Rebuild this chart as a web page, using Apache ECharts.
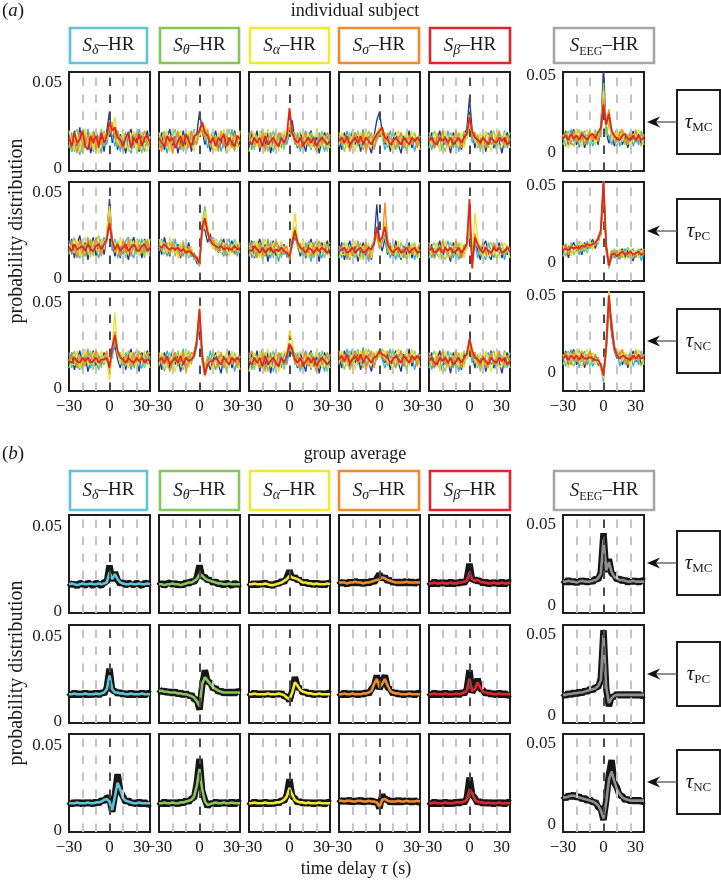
<!DOCTYPE html>
<html><head><meta charset="utf-8">
<script src="https://cdn.jsdelivr.net/npm/echarts@6/dist/echarts.min.js"></script>
<style>html,body{margin:0;padding:0;background:#fff}#c{width:721px;height:880px}</style>
</head><body><div id="c"></div><script>
// time delay (s)
const tau = [-30,-28,-26,-24,-22,-20,-18,-16,-14,-12,-10,-8,-6,-4,-2,0,2,4,6,8,10,12,14,16,18,20,22,24,26,28,30];
const xTicks = [-30, 0, 30];
const yTicks = [0, 50]; // per-mille (0.05 = 50‰)
const refLines = [-20, -10, 0, 10, 20];

// ===== (b) group average, per-mille: smoothed mean (coloured) and raw mean (black) =====
const bMCdelta = [16,16.5,16,15.5,16,16.5,16,16,16.5,16,16,16.5,16,16.5,17,23,19,22,19,17,16.5,16,16,16.5,16,16,16.5,16,16,16.5,16];
const bMCtheta = [16,16,15.5,16,16,16.5,16,16,15.5,16,16.5,17,17,18,19,22,21,19.5,18.5,18,17.5,17,16.5,16.5,16,16,16.5,16,16,16,16];
const bMCalpha = [16,16,16.5,16,16,16,16.5,16,15.5,15.5,16,16.5,17,18,19,21,20,19.5,19,18,17,17,16.5,16.5,16,16.5,16,16,16,16.5,16];
const bMCsigma = [17,17,17,16.5,17,17,17.5,17,17,16.5,17,17,17.5,18,18.5,19,20,19.5,18.5,18,17.5,17,17,17,17,17.5,17,17,17,17,17];
const bMCbeta  = [16.5,16.5,17,16.5,16.5,17,16.5,16.5,17,16.5,16.5,17,17,17.5,18,23,19,18,18.5,17.5,17,17,16.5,16.5,17,16.5,16.5,17,16.5,16.5,17];
const bMCeeg   = [15,15,15.5,15,15,14.5,15,15.5,15,15,15,15.5,16,17,20,41,22,27,21,18,17,16,16,15.5,15,15,15.5,15,15,15,15];
const bPCdelta = [16,16,16.5,16,16,16,16.5,16,16,16,16.5,16,16.5,17,19,27,19,17,17,16.5,16.5,16,16,16.5,16,16,16,16.5,16,16,16];
const bPCtheta = [18,18,17.5,17.5,17,17,17,16.5,16.5,16,16,15.5,15,14,12,9,22,26,24,22,20,19,18,17.5,17,17,17,17,17,17,17];
const bPCalpha = [16,16,16.5,16,16,16,16,16.5,16,16,16,16.5,16,15.5,14,13,17,23,21,18.5,17.5,17,16.5,16.5,16,16,16.5,16,16,16,16];
const bPCsigma = [16,16,16.5,16,16,16.5,16,16,16,16.5,16.5,17,18,22,25,20,22,25,21,18,17,16.5,16.5,16,16,16,16.5,16,16,16,16];
const bPCbeta  = [16,16,16.5,16,16,16,16.5,16,16,16,16.5,16,16.5,17,18,25,18,19,23,20,17.5,17,16.5,16.5,16,16,16.5,16,16,16,16];
const bPCeeg   = [13,13,13.5,13.5,14,14,14.5,14.5,15,15.5,16,16.5,17,18.5,22,50,18,8,11,12.5,13,13,13,13,13,13,13,13,13,13,13];
const bNCdelta = [16,16,16,16.5,16,16,16,16.5,16,16,16.5,16.5,17,18,18.5,17,12,20,28,24,19,17.5,17,16.5,16,16,16.5,16,16,16,16];
const bNCtheta = [16,16,16.5,16,16,16.5,16,16,16.5,16.5,17,17.5,18,20,26,36,24,17,15,15.5,16,16.5,16,16,16.5,16,16,16.5,16,16,16];
const bNCalpha = [16,16,16.5,16,16,16,16.5,16,16,16,16.5,16.5,17,18,20,25,21,18,17,16.5,16.5,16,16.5,16,16,16,16.5,16,16,16,16];
const bNCsigma = [17.5,17.5,17,17.5,17.5,17,17,17.5,17.5,17,17,17.5,17,17,16.5,14,18,18.5,17.5,17,17,17,17.5,17,17,17.5,17,17,17,17.5,17];
const bNCbeta  = [16,16,16.5,16,16,16,16.5,16,16,16,16.5,16.5,16.5,17,18,24,22,18,17,16.5,16.5,16,16.5,16,16,16,16.5,16,16,16,16];
const bNCeeg   = [17,17,17.5,18,18,17.5,17,16.5,16,15.5,15,14.5,13.5,12,9,4,14,28,33,27,22,19,17,16,15.5,15,15,15,15,15,15];

const bMCdeltaRaw = [17,15.5,16.5,14.5,17,16,15,17,16,15,17,16,15,17.5,17,27,18,23,18.5,16,17.5,15,17,16,15.5,17,16,15,17,16,17];
const bMCthetaRaw = [15,17,15,16.5,17,15.5,17,15,16.5,15,17.5,16,18,17,20,27,20,20.5,18,19,16.5,18,15.5,17,15,17,16,15,17,15.5,16.5];
const bMCalphaRaw = [17,15,17,15,17,15.5,17.5,15,16.5,14.5,17,16,18,17,20,24,19,20.5,18,19,16,18,15.5,17.5,15,17.5,15,17,15,17,16];
const bMCsigmaRaw = [18,16,17.5,15.5,18,16,18.5,16,18,15.5,18,16,18.5,17,19.5,22,19,20.5,17.5,19,16.5,18,16,18,16,18.5,16,18,16,17.5,17];
const bMCbetaRaw  = [17.5,15.5,18,15.5,17.5,16,17.5,15.5,18,15.5,17.5,16,18,16.5,19,28,18,19,17.5,18.5,16,18,15.5,17.5,16,17.5,15.5,18,15.5,17.5,16.5];
const bMCeegRaw   = [16,14,16.5,14,16,13.5,16,14.5,16,14,16,14.5,17,16,21,45,21,29,20,19,16,17,15,16.5,14,16,14.5,16,14,16,15];
const bPCdeltaRaw = [17,15,17.5,15,17,15,17.5,15,17,15,17.5,15,17.5,16,20,31,18,18,16,17.5,15.5,17,15,17.5,15,17,15,17.5,15,17,16];
const bPCthetaRaw = [19,17,18.5,16.5,18,16,18,15.5,17.5,15,17,14.5,16,13,13,7,21,30,23,23,19,20,17,18.5,16,18,16,18,16,18,17];
const bPCalphaRaw = [17,15,17.5,15,17,15,17,15.5,17,15,17,15.5,17,14.5,15,12,18,26,20,19.5,16.5,18,15.5,17.5,15,17,15.5,17,15,17,16];
const bPCsigmaRaw = [17,15,17.5,15,17,15.5,17,15,17,15.5,17.5,16,19,21,27,19,23,27,20,19,16,17.5,15.5,17,15,17,15.5,17,15,17,16];
const bPCbetaRaw  = [17,15,17.5,15,17,15,17.5,15,17,15,17.5,15,17.5,16,19,30,17,20,25,19,18.5,16,17.5,15.5,17,15,17.5,15,17,15,16];
const bPCeegRaw   = [14,12,14.5,12.5,15,13,15.5,13.5,16,14.5,17,15.5,18,17.5,23,53,17,6,12,11.5,14,12,14,12,14,12,14,12,14,12,13];
const bNCdeltaRaw = [17,15,17,15.5,17,15,17,15.5,17,15,17.5,15.5,18,17,19.5,19,11,21,33,23,20,16.5,18,15.5,17,15,17.5,15,17,15,16];
const bNCthetaRaw = [17,15,17.5,15,17,15.5,17,15,17.5,15.5,18,16.5,19,19,28,42,23,18,14,16.5,15,17.5,15,17,15.5,17,15,17.5,15,17,16];
const bNCalphaRaw = [17,15,17.5,15,17,15,17.5,15,17,15,17.5,15.5,18,17,21,30,20,19,16,17.5,15.5,17,15.5,17,15,17,15.5,17,15,17,16];
const bNCsigmaRaw = [18.5,16.5,18,16.5,18.5,16,18,16.5,18.5,16,18,16.5,18,16,17.5,13,21,18,18.5,16,18,16,18.5,16,18,16.5,18,16,18,16.5,17];
const bNCbetaRaw  = [17,15,17.5,15,17,15,17.5,15,17,15,17.5,15.5,17.5,16,19,31,21,19,16,17.5,15.5,17,15.5,17,15,17,15.5,17,15,17,16];
const bNCeegRaw   = [18,16,18.5,17,19,16.5,18,15.5,17,14.5,16,13.5,14.5,11,10,3,15,31,40,26,23,18,18,15,16.5,14,16,14,16,14,15];

// ===== (a) individual subject, per-mille; traces: blue, cyan, green, yellow, orange, red =====
const aMCdelta = [
[20,10,22,13,24,11,18,21,9,16,23,12,19,10,22,33,15,24,11,20,16,9,19,23,12,18,10,21,15,22,11],
[12,21,10,18,8,20,14,23,17,10,21,15,9,22,14,24,19,13,22,10,18,21,12,9,20,14,23,15,10,18,21],
[16,10,20,23,13,9,21,12,16,22,10,18,23,13,19,24,27,20,13,19,10,16,22,17,12,21,15,9,19,13,18],
[22,15,11,19,10,18,23,14,21,11,18,9,15,21,17,25,22,30,16,13,21,15,10,19,22,11,17,21,13,10,19],
[13,19,16,9,21,15,12,20,13,21,11,19,14,18,21,20,26,17,22,14,12,19,17,13,16,21,11,17,22,15,13],
[18,13,21,15,17,22,13,11,19,15,19,13,21,15,19,27,22,24,18,17,13,18,21,12,18,15,20,13,18,19,15]];
const aMCtheta = [
[14,21,11,18,23,12,19,9,16,22,13,20,10,17,20,33,22,14,19,10,17,22,12,15,21,9,18,13,22,16,12],
[19,12,18,9,16,22,13,21,11,18,9,16,22,14,19,22,25,20,12,18,22,13,19,10,16,21,14,23,11,17,20],
[11,18,22,15,12,18,23,14,19,10,21,13,17,23,15,20,24,18,21,15,11,19,15,22,12,17,23,15,10,19,16],
[21,14,16,22,10,19,13,17,22,15,12,22,15,10,19,19,23,25,16,20,13,10,21,17,23,13,10,19,17,12,22],
[16,10,20,13,19,9,17,22,11,19,16,12,21,17,14,24,21,18,23,13,19,16,10,20,13,19,16,12,21,15,13],
[18,15,13,19,16,18,12,16,19,13,20,16,13,19,20,22,27,21,19,15,18,13,18,16,20,13,18,15,13,19,17]];
const aMCalpha = [
[13,20,16,22,10,18,14,21,9,17,22,12,19,14,17,22,28,17,12,21,16,10,19,22,13,19,9,17,21,14,18],
[21,11,18,14,19,23,12,16,21,10,16,20,12,21,14,20,23,14,21,10,18,22,16,11,19,13,21,16,10,19,14],
[16,18,11,19,14,12,21,10,17,22,13,18,21,11,19,21,19,21,15,18,12,19,14,21,17,15,12,22,17,10,20],
[10,16,21,13,22,16,18,23,14,12,19,10,16,22,17,26,22,18,13,22,19,14,21,12,16,22,17,12,19,16,12],
[18,22,14,16,12,21,10,17,19,16,13,21,18,14,20,24,20,15,19,12,17,21,13,18,14,10,19,14,16,21,17],
[16,14,18,15,18,13,19,14,16,18,15,13,18,15,19,35,21,17,15,18,13,16,18,15,18,13,16,18,16,14,16]];
const aMCsigma = [
[18,11,21,16,12,22,14,19,10,17,21,14,9,19,28,33,21,14,19,10,17,21,14,9,19,16,22,12,17,14,21],
[13,19,14,22,17,11,21,13,17,23,12,19,16,12,19,22,19,11,16,22,14,11,19,17,12,21,14,19,10,17,14],
[19,16,10,17,21,14,16,22,14,11,18,22,14,20,16,20,23,19,12,17,21,16,12,21,16,10,18,16,21,14,19],
[14,21,17,12,16,19,10,17,21,16,22,12,19,16,21,24,17,21,15,14,10,19,22,14,17,21,12,22,16,19,11],
[21,14,19,16,10,17,21,14,16,21,10,16,21,11,17,21,24,15,21,17,16,12,17,21,12,16,19,14,18,12,19],
[16,18,15,19,14,16,18,15,19,14,18,16,14,17,20,22,24,18,17,14,16,18,16,14,18,16,14,18,16,18,16]];
const aMCbeta = [
[14,21,12,17,22,10,19,16,9,21,14,18,11,20,23,41,22,12,19,14,21,10,16,22,12,19,16,9,17,21,14],
[19,11,18,14,12,21,14,22,16,12,19,10,17,14,20,28,15,21,12,18,10,19,21,14,17,11,21,16,22,12,18],
[12,18,22,16,19,14,10,17,21,16,12,21,16,22,17,25,21,15,20,10,17,16,12,19,22,14,17,19,12,16,21],
[17,14,16,21,10,18,22,12,17,19,16,13,21,12,19,26,23,17,13,21,14,22,17,10,16,21,12,14,21,17,12],
[21,16,12,19,16,22,15,14,12,17,22,16,12,17,21,31,18,21,15,13,19,12,17,21,14,17,22,16,14,19,16],
[16,18,15,14,18,16,18,15,18,14,16,18,15,18,20,30,22,18,17,15,18,16,14,18,16,15,18,16,18,14,16]];
const aMCeeg = [
[8,14,4,11,15,5,9,13,3,9,14,7,12,5,15,56,13,6,15,4,9,14,5,11,3,9,14,7,12,5,9],
[12,4,9,15,7,12,3,10,14,5,11,4,9,14,10,30,15,10,5,12,15,4,9,12,7,14,4,10,5,14,7],
[5,11,14,7,4,10,15,7,9,12,4,10,15,8,13,45,10,19,12,8,4,10,14,5,12,7,10,15,8,4,12],
[11,7,3,12,10,15,7,4,12,15,8,13,5,10,16,40,17,22,8,13,10,15,7,13,10,4,12,8,15,10,5],
[9,13,10,5,14,7,10,14,5,10,14,8,12,7,14,35,19,28,15,10,7,12,15,8,5,12,8,14,7,12,10],
[9,11,8,12,9,11,8,12,10,8,11,12,9,13,16,31,18,25,14,11,9,8,11,12,9,8,11,8,11,8,10]];
const aPCdelta = [
[17,23,12,20,25,15,21,11,18,24,13,20,23,14,25,46,21,13,20,12,23,17,11,20,24,15,19,12,23,16,20],
[22,14,20,15,12,23,17,24,13,20,17,12,19,24,21,35,16,23,12,19,14,22,24,15,12,22,17,23,15,20,13],
[14,20,24,16,22,12,20,15,23,13,22,25,15,20,22,40,23,16,22,14,20,12,19,23,17,14,23,18,12,23,18],
[20,17,15,23,13,20,24,17,12,22,18,15,23,17,27,42,20,21,14,24,17,20,15,22,18,23,13,20,22,14,23],
[15,22,18,12,22,16,13,23,20,15,24,18,13,21,23,36,22,15,19,13,22,15,23,13,20,17,20,15,18,22,15],
[18,16,20,17,18,19,16,20,17,16,19,20,17,20,23,32,22,17,20,16,18,20,16,18,20,17,16,19,20,16,18]];
const aPCtheta = [
[21,14,24,18,13,22,16,20,12,19,15,21,13,15,9,8,30,28,21,26,18,23,15,20,23,13,18,22,15,20,16],
[16,23,18,13,22,16,23,14,20,13,20,12,17,11,13,10,28,34,27,20,24,17,21,16,13,20,23,15,20,13,21],
[23,17,14,21,16,20,13,19,16,22,12,18,14,12,11,7,33,42,29,22,20,16,20,23,17,14,20,16,23,18,15],
[18,22,20,15,24,15,20,12,21,15,18,13,19,13,12,9,27,38,31,21,17,23,16,15,21,18,13,20,16,21,18],
[20,16,21,19,14,21,18,16,13,20,14,19,15,14,13,10,26,33,25,24,22,19,16,20,15,21,16,18,14,17,20],
[19,18,20,18,17,18,17,18,16,17,15,16,15,13,12,9,30,35,27,22,20,19,18,19,17,18,17,17,19,17,18]];
const aPCalpha = [
[16,22,12,19,23,14,20,10,17,22,12,19,14,20,13,12,20,24,20,13,21,12,19,23,14,17,10,21,15,22,14],
[21,12,19,14,17,22,15,23,12,20,16,10,21,14,16,13,18,26,22,19,12,21,16,10,19,22,15,12,21,14,19],
[13,19,22,15,21,11,19,14,22,12,21,17,12,19,14,11,22,30,17,21,17,13,22,17,12,19,22,17,12,20,17],
[19,15,13,22,12,19,23,15,14,21,17,13,22,16,17,14,25,38,24,15,22,17,12,21,17,13,19,15,22,17,12],
[17,21,17,12,21,15,13,21,19,15,22,19,15,17,19,12,21,27,20,19,15,19,17,13,21,15,21,19,15,19,21],
[17,16,19,17,15,18,15,17,18,15,17,16,18,16,15,13,21,28,21,18,17,15,18,17,15,18,16,18,17,15,17]];
const aPCsigma = [
[14,21,11,17,22,13,19,10,16,21,13,19,11,21,43,21,16,23,14,19,12,22,16,11,19,14,21,12,17,14,19],
[19,12,18,14,11,21,14,22,12,17,15,10,19,22,30,18,21,26,19,12,17,11,19,16,12,21,14,19,11,17,14],
[12,18,21,11,19,16,12,17,21,11,19,16,14,20,26,17,23,24,15,21,14,17,12,21,17,11,18,16,21,12,17],
[17,14,14,21,12,17,22,14,11,19,16,21,12,22,28,19,22,33,21,14,19,14,22,12,16,19,12,21,14,19,12],
[16,19,16,12,18,14,16,21,17,14,21,12,17,21,25,18,21,44,23,17,14,19,16,17,14,18,19,14,17,16,21],
[16,17,18,15,16,18,15,17,18,15,16,18,17,20,30,22,24,30,20,17,15,17,18,15,16,18,15,17,18,15,16]];
const aPCbeta = [
[14,20,12,17,22,11,19,15,10,21,14,18,12,19,20,33,13,20,17,11,19,22,14,11,19,16,21,12,17,14,19],
[19,12,18,14,12,21,16,22,16,12,19,11,17,14,18,28,12,21,12,19,14,11,21,16,12,21,14,18,11,19,14],
[12,18,21,16,19,14,11,17,21,16,12,21,16,20,17,30,10,22,20,14,17,14,19,21,16,12,17,21,14,16,18],
[17,14,16,21,11,17,22,12,17,19,16,14,21,12,19,35,13,38,24,17,12,19,12,17,14,19,12,16,21,17,12],
[21,16,12,17,16,22,16,14,12,17,22,16,12,17,21,40,9,26,19,16,21,15,17,14,21,17,19,14,16,19,16],
[16,18,15,16,18,15,18,16,18,15,16,18,15,17,20,46,6,24,20,17,15,18,16,15,18,16,18,15,16,18,16]];
const aPCeeg = [
[6,12,3,10,13,7,11,5,13,9,12,15,9,15,18,50,8,-3,3,8,1,6,9,3,8,4,1,8,4,9,3],
[10,4,11,6,8,12,5,11,7,14,9,12,14,12,20,45,10,0,7,3,8,2,5,9,3,7,9,3,8,1,7],
[4,10,8,13,5,9,14,7,11,6,13,10,13,16,17,48,12,-4,2,9,5,8,3,6,10,2,6,5,9,6,8],
[11,6,9,4,11,6,9,13,9,11,14,8,15,13,22,55,14,1,5,7,3,9,6,2,5,9,5,8,3,8,5],
[8,12,5,11,9,11,7,9,12,10,10,13,11,17,19,52,9,-2,8,5,6,3,8,6,4,8,3,6,7,4,9],
[8,9,8,10,9,10,9,11,10,12,11,12,13,15,21,53,11,-2,5,6,4,6,7,5,6,7,5,6,7,5,6]];
const aNCdelta = [
[14,21,11,17,22,12,19,10,16,22,12,19,14,21,17,12,20,25,17,12,21,11,19,23,12,17,10,21,15,22,14],
[21,12,19,14,11,22,16,23,12,19,16,11,21,14,19,14,18,27,22,19,12,21,16,11,19,22,15,12,21,14,19],
[12,18,22,15,19,11,21,14,22,11,21,17,12,19,21,11,23,30,19,21,17,13,22,17,12,19,22,17,12,21,17],
[17,14,14,22,12,17,23,15,14,21,17,13,22,15,19,5,24,44,23,14,22,17,12,21,17,13,19,15,22,17,12],
[16,21,16,12,19,16,13,21,19,15,22,19,15,17,22,13,22,33,20,19,15,19,17,13,21,15,21,19,15,19,21],
[16,15,18,16,15,18,16,18,15,16,18,15,17,17,18,12,24,31,22,18,17,15,18,16,15,18,16,18,15,17,16]];
const aNCtheta = [
[18,11,21,16,12,22,14,19,10,17,21,14,17,21,26,40,18,10,16,11,17,21,14,9,19,16,22,12,17,14,21],
[13,19,14,22,17,11,21,13,17,23,12,19,16,18,24,44,15,8,14,22,14,11,19,17,12,21,14,19,10,17,14],
[19,16,10,17,21,14,16,22,14,11,18,22,14,22,28,42,20,12,19,17,21,16,12,21,16,10,18,16,21,14,19],
[14,21,17,12,16,19,10,17,21,16,22,12,19,19,30,48,17,7,16,14,10,19,22,14,17,21,12,22,16,19,11],
[21,14,19,16,10,17,21,14,16,21,10,16,21,20,27,45,22,10,17,17,16,12,17,21,12,16,19,14,18,12,19],
[16,18,15,19,14,16,18,15,19,14,18,16,17,19,28,46,19,8,14,16,16,18,16,14,18,16,14,18,16,18,16]];
const aNCalpha = [
[13,20,16,22,10,18,14,21,9,17,22,12,19,14,17,24,20,17,12,21,16,10,19,22,13,19,9,17,21,14,18],
[21,11,18,14,19,23,12,16,21,10,16,20,12,21,14,22,25,14,21,10,18,22,16,11,19,13,21,16,10,19,14],
[16,18,11,19,14,12,21,10,17,22,13,18,21,11,19,23,21,21,15,18,12,19,14,21,17,15,12,22,17,10,20],
[10,16,21,13,22,16,18,23,14,12,19,10,16,22,19,34,27,18,13,22,19,14,21,12,16,22,17,12,19,16,12],
[18,22,14,16,12,21,10,17,19,16,13,21,18,14,20,26,22,15,19,12,17,21,13,18,14,10,19,14,16,21,17],
[16,14,18,15,18,13,19,14,16,18,15,13,18,15,19,26,23,17,15,18,13,16,18,15,18,13,16,18,16,14,16]];
const aNCsigma = [
[19,12,22,17,13,23,15,20,11,18,22,15,10,20,17,22,18,15,20,11,18,22,15,10,20,17,23,13,18,15,22],
[14,20,15,23,18,12,22,14,18,24,13,20,17,13,20,20,17,12,17,23,15,12,20,18,13,22,15,20,11,18,15],
[20,17,11,18,22,15,17,23,15,12,19,23,15,21,17,19,23,20,13,18,22,17,13,22,17,11,19,17,22,15,20],
[15,22,18,13,17,20,11,18,22,17,23,13,20,17,22,18,20,22,16,15,11,20,23,15,18,22,13,23,17,20,12],
[22,15,20,17,11,18,22,15,17,22,11,17,22,12,18,22,19,16,22,18,17,13,18,22,13,17,20,15,19,13,20],
[17,19,16,20,15,17,19,16,20,15,19,17,15,18,19,22,20,19,18,15,17,19,17,15,19,17,15,19,17,19,17]];
const aNCbeta = [
[14,21,12,17,22,10,19,16,9,21,14,18,11,20,18,26,20,12,19,14,21,10,16,22,12,19,16,9,17,21,14],
[19,11,18,14,12,21,14,22,16,12,19,10,17,14,20,22,15,21,12,18,10,19,21,14,17,11,21,16,22,12,18],
[12,18,22,16,19,14,10,17,21,16,12,21,16,22,17,24,21,15,20,10,17,16,12,19,22,14,17,19,12,16,21],
[17,14,16,21,10,18,22,12,17,19,16,13,21,12,19,25,23,17,13,21,14,22,17,10,16,21,12,14,21,17,12],
[21,16,12,19,16,22,15,14,12,17,22,16,12,17,21,27,18,21,15,13,19,12,17,21,14,17,22,16,14,19,16],
[16,18,15,14,18,16,18,15,18,14,16,18,15,18,20,29,22,18,17,15,18,16,14,18,16,15,18,16,18,14,16]];
const aNCeeg = [
[8,14,4,11,15,5,9,13,3,9,14,7,11,5,4,-3,15,45,25,14,9,14,5,11,3,9,14,7,12,5,9],
[12,4,9,15,7,12,3,10,14,5,11,4,8,10,3,-6,20,52,30,16,15,4,9,12,7,14,4,10,5,14,7],
[5,11,14,7,4,10,15,7,9,12,4,10,12,6,6,-2,12,40,35,18,11,10,14,5,12,7,10,15,8,4,12],
[11,7,3,12,10,15,7,4,12,15,8,13,5,8,3,-4,18,55,28,15,10,15,7,13,10,4,12,8,15,10,5],
[9,13,10,5,14,7,10,14,5,10,14,8,10,9,5,-1,16,48,32,17,12,12,15,8,5,12,8,14,7,12,10],
[9,11,8,11,9,11,8,11,9,9,10,9,8,8,5,-2,17,50,30,16,11,9,11,10,9,8,11,9,11,9,10]];

// ===== text =====
const bandSubs = ['δ','θ','α','σ','β','EEG'];
const tauSubs = ['MC','PC','NC'];
const panelTitles = ['individual subject','group average'];
const panelLetters = ['a','b'];

const indivRows = [[aMCdelta,aMCtheta,aMCalpha,aMCsigma,aMCbeta,aMCeeg],[aPCdelta,aPCtheta,aPCalpha,aPCsigma,aPCbeta,aPCeeg],[aNCdelta,aNCtheta,aNCalpha,aNCsigma,aNCbeta,aNCeeg]];
const groupRows = [[bMCdelta,bMCtheta,bMCalpha,bMCsigma,bMCbeta,bMCeeg],[bPCdelta,bPCtheta,bPCalpha,bPCsigma,bPCbeta,bPCeeg],[bNCdelta,bNCtheta,bNCalpha,bNCsigma,bNCbeta,bNCeeg]];
const groupRawRows = [[bMCdeltaRaw,bMCthetaRaw,bMCalphaRaw,bMCsigmaRaw,bMCbetaRaw,bMCeegRaw],[bPCdeltaRaw,bPCthetaRaw,bPCalphaRaw,bPCsigmaRaw,bPCbetaRaw,bPCeegRaw],[bNCdeltaRaw,bNCthetaRaw,bNCalphaRaw,bNCsigmaRaw,bNCbetaRaw,bNCeegRaw]];

// validate lengths
indivRows.forEach((row,r)=>row.forEach((set,c)=>set.forEach((t,k)=>{ if(t.length!==tau.length) throw new Error('indiv r'+r+' c'+c+' t'+k+' len '+t.length); })));
[groupRows,groupRawRows].forEach((g,gi)=>g.forEach((row,r)=>row.forEach((t,c)=>{ if(t.length!==tau.length) throw new Error('group'+gi+' r'+r+' c'+c+' len '+t.length); })));

// ===== styles / layout =====
const FONT = 'Liberation Serif';
const traceColors = ['#1f3a98','#38afdf','#8fcb5c','#f0de2c','#f28c1e','#e2281c'];
const bandColors = ['#5ec4da','#8ac45c','#f2ea2e','#f08a2c','#e0262c','#8f8f8f'];
const boxColors  = ['#5ec4da','#8ac45c','#f2ea2e','#f08a2c','#e0262c','#a6a6a6'];
const colLeft = [69,159,249,339,429,563];
const colW = 81;
const rowTop = [[72,182,292],[515,625,734]];
const rowH = [99, 98];
const yRange = [[[-1.2,55.8],[-12,52.2]], [[-0.8,56.5],[-4.4,56.2]]];
const hdrTop = [28, 471], hdrH = [35, 39];
const hdrLeft = [70,160,250,339,430,554], hdrW = [77,79,79,80,80,100];
const titleY = [11, 454];
const arrowY = [[122,231,341],[563,674,782]];

const grids=[], xAxes=[], yAxes=[], series=[], graphic=[];
for (let p=0;p<2;p++) for (let r=0;r<3;r++) for (let c=0;c<6;c++) {
  const gi = grids.length;
  const eeg = c===5;
  grids.push({left:colLeft[c], top:rowTop[p][r], width:colW, height:rowH[p], show:true, borderColor:'#1e1e1e', borderWidth:2, backgroundColor:'#fff'});
  xAxes.push({gridIndex:gi, type:'value', min:-30, max:30,
    axisLine:{show:false}, axisTick:{show:false}, splitLine:{show:false},
    axisLabel:{show:r===2, customValues:xTicks, margin:7, fontFamily:FONT, fontSize:17, color:'#1a1a1a', alignMaxLabel:'right',
      formatter:v=> v<0 ? '\u2212'+Math.abs(v) : String(v)}});
  const yr = yRange[p][eeg?1:0];
  yAxes.push({gridIndex:gi, type:'value', min:yr[0], max:yr[1],
    axisLine:{show:false}, axisTick:{show:false}, splitLine:{show:false},
    axisLabel:{show:(c===0||c===5), customValues:yTicks, margin:7, fontFamily:FONT, fontSize:17, color:'#1a1a1a',
      formatter:v=> v===0 ? '0' : String(v/1000)}});
  // dashed reference lines
  series.push({type:'line', xAxisIndex:gi, yAxisIndex:gi, data:[[-100,0]], symbol:'none', silent:true, z:1,
    lineStyle:{opacity:0},
    markLine:{silent:true, symbol:['none','none'], label:{show:false}, animation:false,
      lineStyle:{type:[8.5,8.5], width:2},
      data: refLines.map(x=>({xAxis:x, lineStyle:{color: x===0 ? '#4a4a4a' : '#c4c4c4', type:[8.5,8.5], width:2}}))}});
  if (p===0) {
    indivRows[r][c].forEach((t,k)=>{
      series.push({type:'line', xAxisIndex:gi, yAxisIndex:gi, symbol:'none', silent:true, z:3+k,
        data: tau.map((x,i)=>[x,t[i]]),
        lineStyle:{color:traceColors[k], width: k===5 ? 1.8 : 1.35}});
    });
  } else {
    const m = groupRows[r][c], raw = groupRawRows[r][c];
    series.push({type:'line', xAxisIndex:gi, yAxisIndex:gi, symbol:'none', silent:true, z:3,
      data: tau.map((x,i)=>[x,raw[i]]), lineStyle:{color:'#161616', width:6.5}});
    series.push({type:'line', xAxisIndex:gi, yAxisIndex:gi, symbol:'none', silent:true, z:4,
      data: tau.map((x,i)=>[x,m[i]]), lineStyle:{color:bandColors[c], width:2.6}});
  }
}

// ===== graphics: titles, header boxes, tau boxes, arrows, axis titles =====
const richHdr = {
  s:{fontFamily:FONT, fontStyle:'italic', fontSize:19, lineHeight:24, fill:'#1a1a1a'},
  g:{fontFamily:FONT, fontStyle:'italic', fontSize:14, lineHeight:12, verticalAlign:'bottom', fill:'#1a1a1a'},
  e:{fontFamily:FONT, fontSize:12, lineHeight:11, verticalAlign:'bottom', fill:'#1a1a1a'},
  n:{fontFamily:FONT, fontSize:19, lineHeight:24, fill:'#1a1a1a'}
};
for (let p=0;p<2;p++) {
  graphic.push({type:'text', x:2, y:titleY[p], silent:true, style:{text:'{n|(}{i|'+panelLetters[p]+'}{n|)}', align:'left', verticalAlign:'middle',
    rich:{n:{fontFamily:FONT, fontSize:19, fill:'#1a1a1a'}, i:{fontFamily:FONT, fontStyle:'italic', fontSize:19, fill:'#1a1a1a'}}}});
  graphic.push({type:'text', x:355, y:titleY[p], silent:true, style:{text:panelTitles[p], align:'center', verticalAlign:'middle', font:'18px "'+FONT+'"', fill:'#1a1a1a'}});
  for (let c=0;c<6;c++) {
    graphic.push({type:'rect', silent:true, shape:{x:hdrLeft[c], y:hdrTop[p], width:hdrW[c], height:hdrH[p]},
      style:{fill:'#fff', stroke:boxColors[c], lineWidth:2.6}});
    const sub = c===5 ? '{e|EEG}' : '{g|'+bandSubs[c]+'}';
    graphic.push({type:'text', silent:true, x:hdrLeft[c]+hdrW[c]/2, y:hdrTop[p]+hdrH[p]/2, style:{text:'{s|S}'+sub+'{n|–HR}', align:'center', verticalAlign:'middle', rich:richHdr}});
  }
  for (let r=0;r<3;r++) {
    const cy = arrowY[p][r];
    graphic.push({type:'rect', silent:true, shape:{x:677, y:cy-32, width:43, height:64}, style:{fill:'#fff', stroke:'#1e1e1e', lineWidth:2}});
    graphic.push({type:'text', silent:true, x:698.5, y:cy, style:{text:'{t|τ}{m|'+tauSubs[r]+'}', align:'center', verticalAlign:'middle',
      rich:{t:{fontFamily:FONT, fontStyle:'italic', fontSize:21, lineHeight:24, fill:'#1a1a1a'}, m:{fontFamily:FONT, fontSize:13, lineHeight:11, verticalAlign:'bottom', fill:'#1a1a1a'}}}});
    graphic.push({type:'line', silent:true, shape:{x1:656, y1:cy, x2:677, y2:cy}, style:{stroke:'#555', lineWidth:1.3}});
    graphic.push({type:'polygon', silent:true, shape:{points:[[647,cy],[660,cy-5.5],[656,cy],[660,cy+5.5]]}, style:{fill:'#111'}});
  }
}
graphic.push({type:'text', silent:true, x:17, y:231, rotation:Math.PI/2, style:{text:'probability distribution', align:'center', verticalAlign:'middle', font:'20px "'+FONT+'"', fill:'#1a1a1a'}});
graphic.push({type:'text', silent:true, x:17, y:673, rotation:Math.PI/2, style:{text:'probability distribution', align:'center', verticalAlign:'middle', font:'20px "'+FONT+'"', fill:'#1a1a1a'}});
graphic.push({type:'text', silent:true, x:356, y:869, style:{text:'{n|time delay }{i|τ}{n| (s)}', align:'center', verticalAlign:'middle',
  rich:{n:{fontFamily:FONT, fontSize:18, fill:'#1a1a1a'}, i:{fontFamily:FONT, fontStyle:'italic', fontSize:19, fill:'#1a1a1a'}}}});

const chart = echarts.init(document.getElementById('c'), null, {renderer:'canvas'});
chart.setOption({animation:false, grid:grids, xAxis:xAxes, yAxis:yAxes, series:series, graphic:graphic});
</script></body></html>
